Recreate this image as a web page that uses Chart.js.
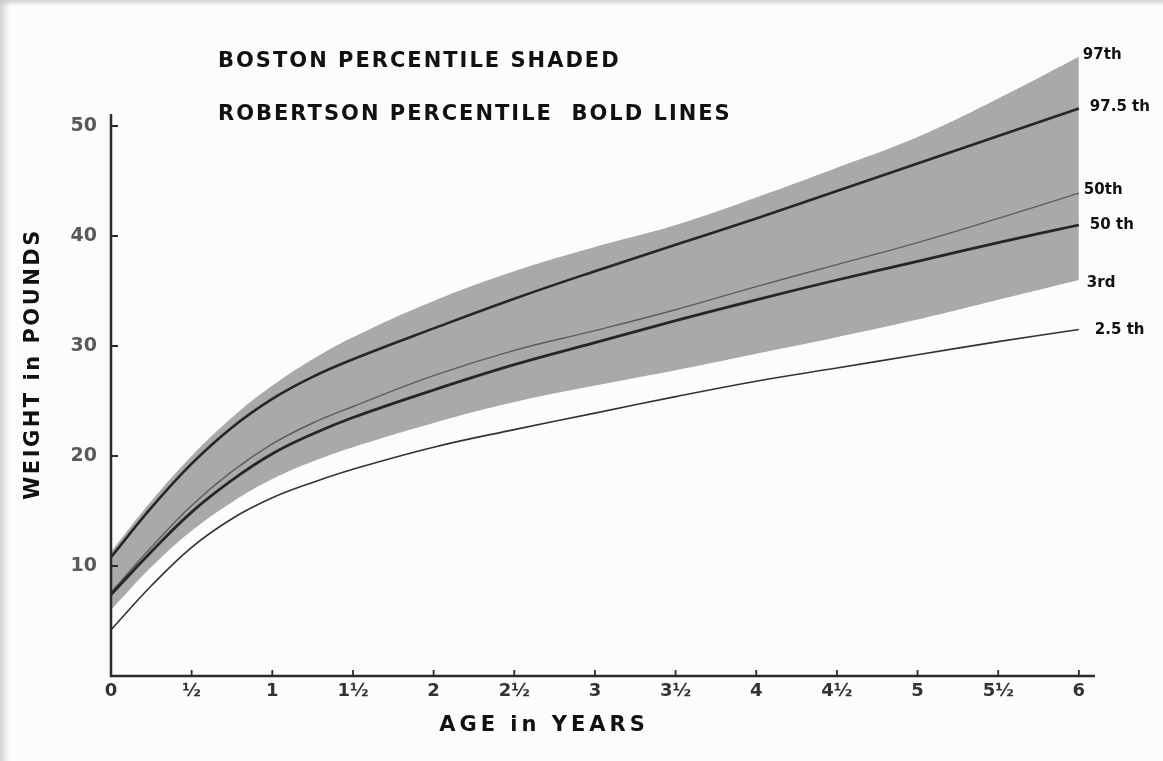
<!DOCTYPE html>
<html>
<head>
<meta charset="utf-8">
<title>Weight for age: Boston and Robertson percentiles</title>
<script src="https://cdn.jsdelivr.net/npm/chart.js@4/dist/chart.umd.min.js"></script>
<style>
  html, body { margin: 0; padding: 0; background: #fbfbfb; }
  #wrap { width: 1163px; height: 761px; position: relative; }
</style>
</head>
<body>
<div id="wrap"><canvas id="growth"></canvas></div>
<script>
// Age in years at which each percentile curve is read
const ages = [0, 0.25, 0.5, 0.75, 1, 1.25, 1.5, 2, 2.5, 3, 3.5, 4, 4.5, 5, 5.5, 6];

// Boston percentiles (pounds) - the shaded band and its median
const boston97 = [11.3, 15.9, 20.0, 23.5, 26.4, 28.8, 30.8, 34.1, 36.8, 39.0, 41.0, 43.5, 46.2, 49.0, 52.5, 56.3];
const boston50 = [7.6, 11.7, 15.5, 18.6, 21.1, 23.0, 24.5, 27.3, 29.6, 31.4, 33.3, 35.4, 37.4, 39.4, 41.6, 43.9];
const boston3  = [6.0, 9.9, 13.2, 15.8, 17.9, 19.5, 20.8, 23.0, 24.9, 26.4, 27.8, 29.3, 30.8, 32.4, 34.2, 36.0];

// Robertson percentiles (pounds) - the bold lines
const robertson975 = [10.8, 15.3, 19.3, 22.6, 25.2, 27.2, 28.8, 31.6, 34.3, 36.8, 39.2, 41.6, 44.1, 46.6, 49.1, 51.6];
const robertson50  = [7.4, 11.3, 14.9, 17.8, 20.2, 22.0, 23.5, 26.0, 28.3, 30.3, 32.3, 34.2, 36.0, 37.7, 39.4, 41.0];
const robertson25  = [4.2, 8.2, 11.7, 14.3, 16.2, 17.6, 18.8, 20.8, 22.4, 23.9, 25.4, 26.8, 28.0, 29.2, 30.4, 31.5];

// Axis ticks
const xTickValues = [0, 0.5, 1, 1.5, 2, 2.5, 3, 3.5, 4, 4.5, 5, 5.5, 6];
const xTickLabels = ['0', '½', '1', '1½', '2', '2½', '3', '3½', '4', '4½', '5', '5½', '6'];
const yTickValues = [10, 20, 30, 40, 50];

// Texts
const titleLines = ['BOSTON PERCENTILE SHADED', 'ROBERTSON PERCENTILE  BOLD LINES'];
const xAxisTitle = 'AGE in YEARS';
const yAxisTitle = 'WEIGHT in POUNDS';
const endLabels = ['97th', '3rd', '50th', '97.5 th', '50 th', '2.5 th'];

const pts = arr => arr.map((v, i) => ({ x: ages[i], y: v }));

const INK = '#2b2b2b';
const SHADE = '#a9a9a9';
const TEXT_FONT = '"DejaVu Sans", "Liberation Sans", sans-serif';

// Label offsets from the last point of each dataset (same order as datasets)
const endOffsets = [
  { dx: 4, dy: -2 }, { dx: 8, dy: 3 }, { dx: 5, dy: -3 },
  { dx: 11, dy: -1 }, { dx: 11, dy: 0 }, { dx: 16, dy: 1 }
];

function spacedText(ctx, text, x, y, spacing) {
  ctx.letterSpacing = spacing + 'px';
  ctx.fillText(text, x, y);
  ctx.letterSpacing = '0px';
}

const decorations = {
  id: 'decorations',
  beforeDraw(chart) {
    const { ctx, width, height } = chart;
    ctx.save();
    ctx.fillStyle = '#fcfcfc';
    ctx.fillRect(0, 0, width, height);
    let g = ctx.createLinearGradient(0, 0, 10, 0);
    g.addColorStop(0, 'rgba(200,200,200,0.8)');
    g.addColorStop(1, 'rgba(200,200,200,0)');
    ctx.fillStyle = g;
    ctx.fillRect(0, 0, 10, height);
    g = ctx.createLinearGradient(0, 0, 0, 6);
    g.addColorStop(0, 'rgba(200,200,200,0.8)');
    g.addColorStop(1, 'rgba(200,200,200,0)');
    ctx.fillStyle = g;
    ctx.fillRect(0, 0, width, 6);
    ctx.restore();
  },
  afterDraw(chart) {
    const { ctx, chartArea } = chart;
    const xs = chart.scales.x, ys = chart.scales.y;
    const x0 = xs.getPixelForValue(0);
    const y0 = ys.getPixelForValue(0);
    ctx.save();

    // axis lines
    ctx.strokeStyle = INK;
    ctx.lineWidth = 2.5;
    ctx.beginPath();
    ctx.moveTo(x0, ys.getPixelForValue(51.1));
    ctx.lineTo(x0, y0);
    ctx.lineTo(chartArea.right, y0);
    ctx.stroke();

    // inward tick marks
    ctx.lineWidth = 1.8;
    ctx.beginPath();
    xTickValues.forEach(v => {
      if (v === 0) return;
      const px = xs.getPixelForValue(v);
      ctx.moveTo(px, y0);
      ctx.lineTo(px, y0 - 6);
    });
    yTickValues.forEach(v => {
      const py = ys.getPixelForValue(v);
      ctx.moveTo(x0, py);
      ctx.lineTo(x0 + 7, py);
    });
    ctx.stroke();

    // heading lines
    ctx.fillStyle = '#111';
    ctx.textAlign = 'left';
    ctx.textBaseline = 'middle';
    ctx.font = 'bold 21px ' + TEXT_FONT;
    spacedText(ctx, titleLines[0], 218, 62, 2);
    spacedText(ctx, titleLines[1], 218, 115, 2);

    // axis titles
    ctx.font = 'bold 21px ' + TEXT_FONT;
    ctx.textAlign = 'left';
    ctx.letterSpacing = '4px';
    const wx = ctx.measureText(xAxisTitle).width;
    ctx.fillText(xAxisTitle, 544 - wx / 2, 726);
    ctx.letterSpacing = '2.5px';
    const wy = ctx.measureText(yAxisTitle).width;
    ctx.save();
    ctx.translate(34, 364);
    ctx.rotate(-Math.PI / 2);
    ctx.fillText(yAxisTitle, -wy / 2, 0);
    ctx.restore();
    ctx.letterSpacing = '0px';

    // percentile names at the end of each curve
    ctx.font = 'bold 15px ' + TEXT_FONT;
    ctx.textAlign = 'left';
    chart.data.datasets.forEach((ds, i) => {
      const meta = chart.getDatasetMeta(i);
      const last = meta.data[meta.data.length - 1];
      ctx.fillText(endLabels[i], last.x + endOffsets[i].dx, last.y + endOffsets[i].dy);
    });
    ctx.restore();
  }
};

new Chart(document.getElementById('growth'), {
  type: 'line',
  data: {
    datasets: [
      { label: 'Boston 97th', data: pts(boston97), borderWidth: 0, borderColor: 'rgba(0,0,0,0)',
        backgroundColor: SHADE, fill: '+1', order: 10 },
      { label: 'Boston 3rd', data: pts(boston3), borderWidth: 0, borderColor: 'rgba(0,0,0,0)',
        fill: false, order: 9 },
      { label: 'Boston 50th', data: pts(boston50), borderWidth: 1.4, borderColor: '#5c5c5c', fill: false, order: 3 },
      { label: 'Robertson 97.5th', data: pts(robertson975), borderWidth: 2.6, borderColor: '#262626', fill: false, order: 1 },
      { label: 'Robertson 50th', data: pts(robertson50), borderWidth: 2.8, borderColor: '#262626', fill: false, order: 1 },
      { label: 'Robertson 2.5th', data: pts(robertson25), borderWidth: 1.6, borderColor: '#333', fill: false, order: 2 }
    ]
  },
  options: {
    responsive: true,
    maintainAspectRatio: false,
    animation: false,
    devicePixelRatio: 1,
    layout: { padding: { top: 43.5, right: 68, left: 0, bottom: 0 } },
    elements: {
      point: { radius: 0, hoverRadius: 0 },
      line: { tension: 0.4, capBezierPoints: true }
    },
    datasets: { line: { clip: false } },
    plugins: {
      legend: { display: false },
      tooltip: { enabled: false },
      title: { display: false }
    },
    scales: {
      x: {
        type: 'linear',
        min: 0,
        max: 6.1,
        grid: { display: false, drawTicks: false },
        border: { display: false },
        afterBuildTicks(scale) { scale.ticks = xTickValues.map(v => ({ value: v })); },
        afterFit(scale) { scale.height = 85; },
        ticks: {
          autoSkip: false,
          maxRotation: 0,
          padding: 5,
          color: '#333',
          font: { family: TEXT_FONT, size: 18, weight: 'bold' },
          callback(value) {
            const i = xTickValues.indexOf(value);
            return i >= 0 ? xTickLabels[i] : '';
          }
        }
      },
      y: {
        type: 'linear',
        min: 0,
        max: 57.5,
        grid: { display: false, drawTicks: false },
        border: { display: false },
        afterBuildTicks(scale) { scale.ticks = yTickValues.map(v => ({ value: v })); },
        afterFit(scale) { scale.width = 111; },
        ticks: {
          autoSkip: false,
          padding: 14,
          color: '#5a5a5a',
          font: { family: TEXT_FONT, size: 19, weight: 'bold' }
        }
      }
    }
  },
  plugins: [decorations]
});
</script>
</body>
</html>
